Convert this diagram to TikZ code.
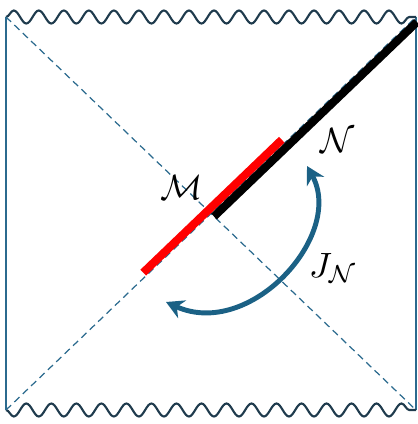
\documentclass[tikz,border=0pt]{standalone}
\usepackage{amsmath, amssymb}
\usepackage{xcolor}
\usepackage{tikz}
\usetikzlibrary{arrows.meta, calc, decorations.pathmorphing}

\definecolor{wallblue}{RGB}{43,106,142}
\definecolor{singdark}{RGB}{31,59,77}
\definecolor{flowblue}{RGB}{27,97,133}

\begin{document}
\begin{tikzpicture}[
    x=0.01cm, y=-0.01cm,
    wall/.style={draw=wallblue, line width=0.45pt},
    horizon/.style={draw=wallblue, line width=0.35pt, dash pattern=on 2pt off 1.3pt},
    sing/.style={draw=singdark, line width=0.6pt, decorate, decoration={snake, segment length=0.25cm, amplitude=0.065cm}},
    seg/.style={line width=2.3pt},
    arrow/.style={draw=flowblue, line width=1.4pt, {Stealth[length=5pt,width=5.5pt]}-{Stealth[length=5pt,width=5.5pt]}}
]
\useasboundingbox (0,0) rectangle (418,424);

% corners of the diagram
\coordinate (tl) at (6,17);
\coordinate (tr) at (416,17);
\coordinate (bl) at (6,410);
\coordinate (br) at (416,410);

\draw[wall] (tl) -- (bl);
\draw[wall] (tr) -- (br);
\draw[sing] (tl) -- (tr);
\draw[sing, decoration={mirror}] (bl) -- (br);
\draw[horizon] (tl) -- (br);
\draw[horizon] (bl) -- (tr);

% regions on the slice
\coordinate (redlo) at ($(bl)!0.342!(tr) + (-3,-3)$);
\coordinate (redhi) at ($(bl)!0.680!(tr) + (-3,-3)$);
\coordinate (blacklo) at ($(bl)!0.500!(tr) + (3,3)$);
\coordinate (blackhi) at ($(bl)!0.995!(tr) + (3,3)$);
\draw[seg, red] (redlo) -- (redhi);
\draw[seg, black] (blacklo) -- (blackhi);

\node (mlabel) at (182,187) {$\mathcal{M}$};
\node (nlabel) at (338,140) {$\mathcal{N}$};
\node (jlabel) at (333,268) {$J_{\mathcal{N}}$};

\coordinate (jtail) at (166,302);
\coordinate (jhead) at (307,166);
\draw[arrow] (jtail) .. controls (250,340) and (345,235) .. (jhead);
\end{tikzpicture}
\end{document}
